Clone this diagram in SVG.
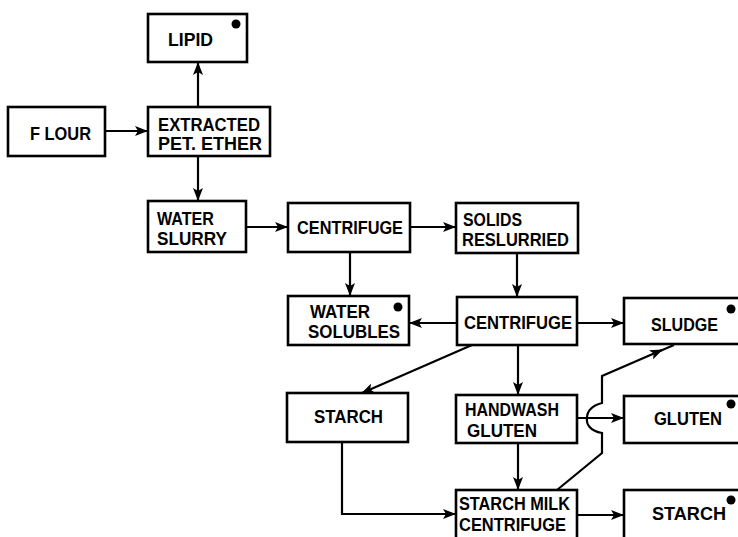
<svg xmlns="http://www.w3.org/2000/svg" width="738" height="537" viewBox="0 0 738 537">
<defs>
<style>
.box{fill:#fff;stroke:#000;stroke-width:2.6}
.t{font-family:"Liberation Sans",Arial,sans-serif;font-weight:bold;font-size:17.5px;fill:#000}
.c{fill:none;stroke:#000;stroke-width:2.2}
.dot{fill:#000}
</style>
<marker id="ah" viewBox="0 0 13 10" refX="12" refY="5" markerWidth="13" markerHeight="10" markerUnits="userSpaceOnUse" orient="auto">
<path d="M0,0 L13,5 L0,10 L3,5 Z" fill="#000"/>
</marker>
</defs>
<rect width="738" height="537" fill="#fff"/>
<g id="connectors">
<path class="c" d="M105,131 H147" marker-end="url(#ah)"/>
<path class="c" d="M198,107 V63" marker-end="url(#ah)"/>
<path class="c" d="M198,156 V200" marker-end="url(#ah)"/>
<path class="c" d="M246,227 H287" marker-end="url(#ah)"/>
<path class="c" d="M410,227 H455" marker-end="url(#ah)"/>
<path class="c" d="M350,252 V295" marker-end="url(#ah)"/>
<path class="c" d="M517,253 V296" marker-end="url(#ah)"/>
<path class="c" d="M457,323 H410" marker-end="url(#ah)"/>
<path class="c" d="M577,323 H623" marker-end="url(#ah)"/>
<path class="c" d="M472,345 L362,393" marker-end="url(#ah)"/>
<path class="c" d="M518,345 V394" marker-end="url(#ah)"/>
<path class="c" d="M518,443 V489" marker-end="url(#ah)"/>
<path class="c" d="M342,442 V514 H455" marker-end="url(#ah)"/>
<path class="c" d="M577,418 H623" marker-end="url(#ah)"/>
<path class="c" d="M577,515 H623" marker-end="url(#ah)"/>
<path class="c" d="M557,490 L602,453 V433 C590,431 586,424 587,418 C587,412 591,406 602,403 V376 L662,350" marker-end="url(#ah)"/>
<path class="c" d="M660,351 L674,345"/>
</g>
<g id="lipid">
<rect class="box" x="148" y="14" width="99" height="48"/>
<text class="t" x="168" y="46" textLength="45" lengthAdjust="spacingAndGlyphs">LIPID</text>
<circle class="dot" cx="236" cy="24" r="4.5"/>
</g>
<g id="flour">
<rect class="box" x="8" y="107" width="97" height="49"/>
<text class="t" x="30" y="140" textLength="61" lengthAdjust="spacingAndGlyphs">F LOUR</text>
</g>
<g id="extracted">
<rect class="box" x="148" y="107" width="122" height="49"/>
<text class="t" x="158" y="131" textLength="102" lengthAdjust="spacingAndGlyphs">EXTRACTED</text>
<text class="t" x="158" y="150" textLength="104" lengthAdjust="spacingAndGlyphs">PET. ETHER</text>
</g>
<g id="water-slurry">
<rect class="box" x="148" y="201" width="98" height="51"/>
<text class="t" x="157" y="225" textLength="57" lengthAdjust="spacingAndGlyphs">WATER</text>
<text class="t" x="157" y="245" textLength="70" lengthAdjust="spacingAndGlyphs">SLURRY</text>
</g>
<g id="centrifuge1">
<rect class="box" x="288" y="203" width="122" height="49"/>
<text class="t" x="297" y="234" textLength="106" lengthAdjust="spacingAndGlyphs">CENTRIFUGE</text>
</g>
<g id="solids">
<rect class="box" x="456" y="203" width="122" height="50"/>
<text class="t" x="463" y="226" textLength="59" lengthAdjust="spacingAndGlyphs">SOLIDS</text>
<text class="t" x="462" y="246" textLength="107" lengthAdjust="spacingAndGlyphs">RESLURRIED</text>
</g>
<g id="water-solubles">
<rect class="box" x="288" y="296" width="121" height="49"/>
<text class="t" x="310" y="318" textLength="60" lengthAdjust="spacingAndGlyphs">WATER</text>
<text class="t" x="308" y="338" textLength="92" lengthAdjust="spacingAndGlyphs">SOLUBLES</text>
<circle class="dot" cx="398" cy="307" r="4.5"/>
</g>
<g id="centrifuge2">
<rect class="box" x="457" y="297" width="120" height="48"/>
<text class="t" x="464" y="329" textLength="108" lengthAdjust="spacingAndGlyphs">CENTRIFUGE</text>
</g>
<g id="sludge">
<rect class="box" x="624" y="298" width="130" height="46"/>
<text class="t" x="651" y="331" textLength="67" lengthAdjust="spacingAndGlyphs">SLUDGE</text>
<circle class="dot" cx="731" cy="309" r="4.5"/>
</g>
<g id="starch1">
<rect class="box" x="287" y="393" width="121" height="49"/>
<text class="t" x="314" y="423" textLength="69" lengthAdjust="spacingAndGlyphs">STARCH</text>
</g>
<g id="handwash">
<rect class="box" x="456" y="395" width="121" height="48"/>
<text class="t" x="465" y="416" textLength="94" lengthAdjust="spacingAndGlyphs">HANDWASH</text>
<text class="t" x="467" y="437" textLength="70" lengthAdjust="spacingAndGlyphs">GLUTEN</text>
</g>
<g id="gluten">
<rect class="box" x="624" y="396" width="130" height="47"/>
<text class="t" x="654" y="425" textLength="68" lengthAdjust="spacingAndGlyphs">GLUTEN</text>
<circle class="dot" cx="731" cy="404" r="4.5"/>
</g>
<g id="starch-milk">
<rect class="box" x="456" y="490" width="121" height="60"/>
<text class="t" x="459" y="510" textLength="111" lengthAdjust="spacingAndGlyphs">STARCH MILK</text>
<text class="t" x="459" y="531" textLength="107" lengthAdjust="spacingAndGlyphs">CENTRIFUGE</text>
</g>
<g id="starch2">
<rect class="box" x="624" y="490" width="130" height="60"/>
<text class="t" x="652" y="520" textLength="74" lengthAdjust="spacingAndGlyphs">STARCH</text>
<circle class="dot" cx="731" cy="500" r="4.5"/>
</g>
</svg>
